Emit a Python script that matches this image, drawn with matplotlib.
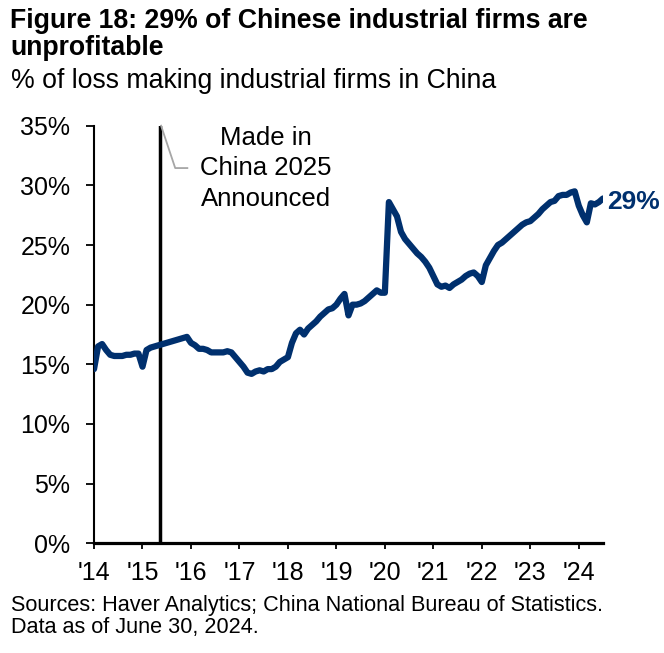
import matplotlib
matplotlib.use("Agg")
import matplotlib.pyplot as plt
import numpy as np

plt.rcParams["font.family"] = ["Liberation Sans", "DejaVu Sans"]

# Share of loss-making industrial firms, monthly from Jan 2014 (%)
loss_share = [
    14.6, 16.5, 16.7, 16.2, 15.8, 15.7, 15.7, 15.7, 15.8, 15.8, 15.9, 15.9,   # 2014
    14.8, 16.2, 16.4, 16.5, 16.6, 16.7, 16.8, 16.9, 17.0, 17.1, 17.2, 17.3,   # 2015
    16.8, 16.6, 16.3, 16.3, 16.2, 16.0, 16.0, 16.0, 16.0, 16.1, 16.0, 15.6,   # 2016
    15.2, 14.8, 14.3, 14.2, 14.4, 14.5, 14.4, 14.6, 14.6, 14.8, 15.2, 15.4,   # 2017
    15.6, 16.8, 17.6, 17.9, 17.5, 18.0, 18.3, 18.6, 19.0, 19.3, 19.6, 19.7,   # 2018
    20.0, 20.5, 20.9, 19.1, 20.0, 20.0, 20.1, 20.3, 20.6, 20.9, 21.2, 21.0,   # 2019
    21.0, 28.6, 28.0, 27.4, 26.1, 25.5, 25.1, 24.7, 24.3, 24.0, 23.6, 23.1,   # 2020
    22.4, 21.7, 21.5, 21.6, 21.4, 21.7, 21.9, 22.1, 22.4, 22.6, 22.7, 22.4,   # 2021
    21.9, 23.3, 23.9, 24.5, 25.0, 25.2, 25.5, 25.8, 26.1, 26.4, 26.7, 26.9,   # 2022
    27.0, 27.3, 27.6, 28.0, 28.3, 28.6, 28.7, 29.1, 29.2, 29.2, 29.4, 29.5,   # 2023
    28.3, 27.5, 26.9, 28.5, 28.4, 28.6, 28.9,                                 # 2024
]
year_labels = ["'14", "'15", "'16", "'17", "'18", "'19", "'20", "'21", "'22", "'23", "'24"]
y_ticks = [0, 5, 10, 15, 20, 25, 30, 35]
event_month = 16.4          # May 2015
event_label = "Made in\nChina 2025\nAnnounced"
last_label = "29%"

navy = "#00306E"

fig = plt.figure(figsize=(6.64, 6.53), dpi=100)
ax = fig.add_axes([0.1416, 0.168, 0.9081 - 0.1416, 0.8075 - 0.168])

months = np.arange(len(loss_share))
ax.plot(months, loss_share, color=navy, lw=4.5, solid_capstyle="round",
        solid_joinstyle="round", zorder=3)

# Announcement marker with its callout
ax.axvline(event_month, color="black", lw=2.5, zorder=2)
ax.text(42.5, 31.45, event_label, ha="center", va="center", fontsize=18.5,
        linespacing=1.34)
leader_x = [event_month + 0.2, event_month + 3.7, event_month + 6.7]
leader_y = [35, 31.45, 31.45]
ax.plot(leader_x, leader_y, color="#A6A6A6", lw=1.3, zorder=2, clip_on=False)

# End-of-series label
ax.text(months[-1] + 1.0, loss_share[-1] - 0.3, last_label, color=navy,
        fontsize=19, fontweight="bold", ha="left", va="center")

ax.set_xlim(0, len(loss_share) - 1)
ax.set_ylim(0, 35)
ax.set_xticks(np.arange(0, 121, 12))
ax.set_xticklabels(year_labels)
ax.set_yticks(y_ticks)
ax.set_yticklabels([f"{v}%" for v in y_ticks])

for side in ("top", "right"):
    ax.spines[side].set_visible(False)
ax.spines["left"].set_linewidth(1.5)
ax.spines["bottom"].set_linewidth(2.3)
ax.tick_params(axis="y", length=6, width=1.3, pad=11, labelsize=18)
ax.tick_params(axis="x", length=4.5, width=1.3, pad=8, labelsize=18)

fig.text(0.015, 1 - 21 / 653, "Figure 18: 29% of Chinese industrial firms are",
         fontsize=19.2, fontweight="bold", va="center", ha="left")
fig.text(0.015, 1 - 48 / 653, "unprofitable",
         fontsize=19.2, fontweight="bold", va="center", ha="left")
fig.text(0.016, 1 - 81 / 653, "% of loss making industrial firms in China",
         fontsize=19.2, va="center", ha="left")
fig.text(0.017, 1 - 606 / 653, "Sources: Haver Analytics; China National Bureau of Statistics.",
         fontsize=15.6, va="center", ha="left")
fig.text(0.017, 1 - 628 / 653, "Data as of June 30, 2024.",
         fontsize=15.6, va="center", ha="left")

fig.savefig("out.png", dpi=100)
